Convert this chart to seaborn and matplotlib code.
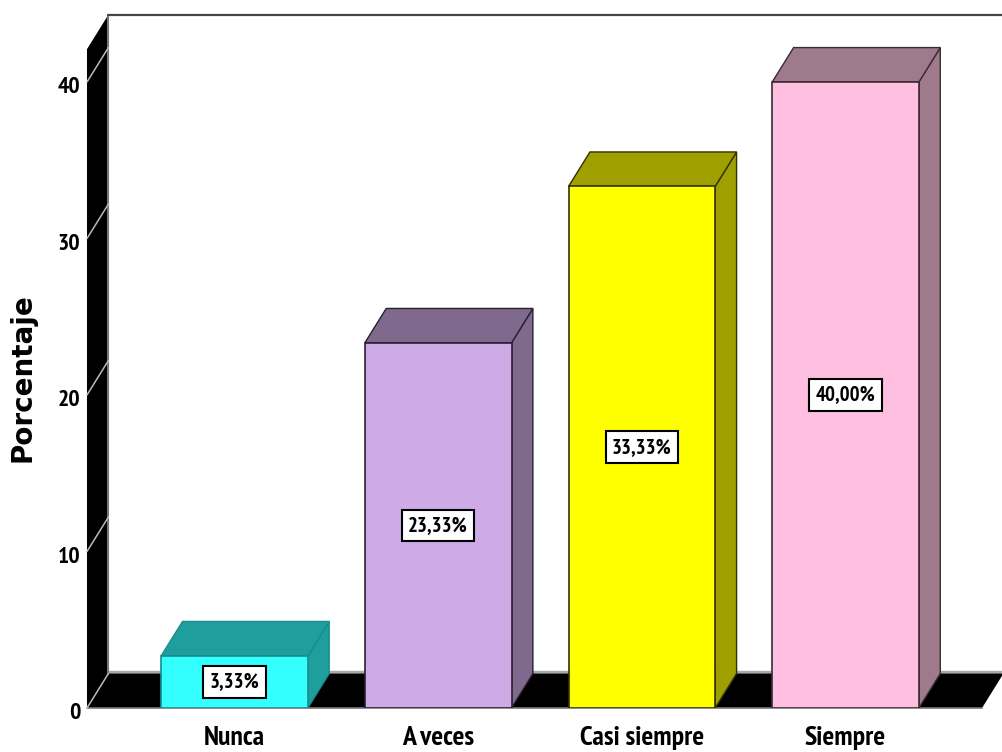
import numpy as np
import pandas as pd
import matplotlib
matplotlib.use("Agg")
import matplotlib.pyplot as plt
from matplotlib.patches import Polygon
from matplotlib.transforms import ScaledTranslation
import seaborn as sns

# Data
categories = ["Nunca", "A veces", "Casi siempre", "Siempre"]
percentages = [3.33, 23.33, 33.33, 40.00]
y_ticks = [0, 10, 20, 30, 40]

# Colours
front_colors = ["#33FFFF", "#CEABE6", "#FFFF00", "#FFBFE0"]
side_colors = ["#1F9E9E", "#7F6A8E", "#A09F00", "#9E7A8C"]
edge_colors = ["#1A8C8C", "#2A2030", "#333300", "#3A2A33"]

# 3D look (depth in data units)
depth_x = 0.105
depth_y = 2.2
left_x = -0.724
right_x = 3.67
wall_top = 42.1

df = pd.DataFrame({"Respuesta": categories, "Porcentaje": percentages})

sns.set_style("white")
narrow = ["PT Sans Narrow", "Archivo Narrow", "Liberation Sans", "DejaVu Sans"]
plt.rcParams["font.family"] = narrow
plt.rcParams["text.color"] = "black"
plt.rcParams["xtick.color"] = "black"
plt.rcParams["ytick.color"] = "black"

fig = plt.figure(figsize=(10.02, 7.52), dpi=100, facecolor="white")
ax = fig.add_axes([87 / 1002, 44 / 752, 915 / 1002, 708 / 752])

sns.barplot(
    data=df,
    x="Respuesta",
    y="Porcentaje",
    hue="Respuesta",
    order=categories,
    hue_order=categories,
    palette=front_colors,
    saturation=1,
    width=0.72,
    dodge=False,
    legend=False,
    ax=ax,
)

ax.set_xlim(left_x, 3.768)
ax.set_ylim(0, 45.24)
sns.despine(ax=ax, left=True, bottom=True, top=True, right=True)
ax.patch.set_alpha(0)

# Floor and left wall
ax.add_patch(Polygon(
    [(left_x, 0), (right_x, 0), (right_x + depth_x, depth_y), (left_x + depth_x, depth_y)],
    closed=True, facecolor="black", edgecolor="none", zorder=0.5, clip_on=False,
))
ax.add_patch(Polygon(
    [(left_x, 0), (left_x + depth_x, depth_y), (left_x + depth_x, wall_top + depth_y), (left_x, wall_top)],
    closed=True, facecolor="black", edgecolor="none", zorder=0.5, clip_on=False,
))

# Grey rims
ax.plot([left_x + depth_x, 3.768], [depth_y + 0.1, depth_y + 0.1], color="#AAAAAA", lw=2.5, zorder=0.4, clip_on=False)
ax.plot([left_x, right_x], [0, 0], color="#777777", lw=1.2, zorder=0.6, clip_on=False)
ax.plot([left_x + depth_x, left_x + depth_x], [depth_y, wall_top + depth_y], color="#777777", lw=1.5, zorder=0.6, clip_on=False)
ax.plot([left_x + depth_x, 3.768], [wall_top + depth_y, wall_top + depth_y], color="#444444", lw=1.6, zorder=0.6, clip_on=False)

# Diagonal tick lines on the wall
for t in y_ticks:
    ax.plot([left_x, left_x + depth_x], [t, t + depth_y], color="#BBBBBB", lw=1.1, zorder=0.7, clip_on=False)

# Top and side faces from the seaborn bars
for i, container in enumerate(ax.containers):
    bar = container[0]
    x0 = bar.get_x()
    x1 = x0 + bar.get_width()
    h = bar.get_height()
    bar.set_edgecolor(edge_colors[i])
    bar.set_linewidth(1.2)
    bar.set_zorder(2)
    ax.add_patch(Polygon(
        [(x1, 0), (x1 + depth_x, depth_y), (x1 + depth_x, h + depth_y), (x1, h)],
        closed=True, facecolor=side_colors[i], edgecolor=edge_colors[i], lw=1.0, zorder=1.5,
    ))
    ax.add_patch(Polygon(
        [(x0, h), (x1, h), (x1 + depth_x, h + depth_y), (x0 + depth_x, h + depth_y)],
        closed=True, facecolor=side_colors[i], edgecolor=edge_colors[i], lw=1.0, zorder=1.5,
    ))
    label = f"{percentages[i]:.2f}%".replace(".", ",")
    ax.bar_label(
        container,
        labels=[label],
        label_type="center",
        fontsize=15,
        fontweight="bold",
        color="black",
        zorder=3,
        bbox=dict(boxstyle="square,pad=0.3", facecolor="white", edgecolor="black", linewidth=1.5),
    )

ax.set_yticks(y_ticks)
ax.set_yticklabels([str(t) for t in y_ticks], fontsize=17, fontweight="bold")
ax.set_xticks(range(len(categories)))
ax.set_xticklabels(categories, fontsize=20, fontweight="bold")
ax.tick_params(axis="y", length=0, pad=5)
ax.tick_params(axis="x", length=0, pad=13)
ax.set_xlabel("")
ax.set_ylabel("")

# y labels sit a little below their ticks
shift = ScaledTranslation(0, -3 / 100, fig.dpi_scale_trans)
for lab in ax.get_yticklabels():
    lab.set_transform(lab.get_transform() + shift)

fig.text(23 / 1002, 1 - 378 / 752, "Porcentaje", rotation=90, ha="center", va="center",
         fontsize=20, fontweight="bold", family=["DejaVu Sans"])

fig.savefig("out.png", dpi=100, facecolor="white")
